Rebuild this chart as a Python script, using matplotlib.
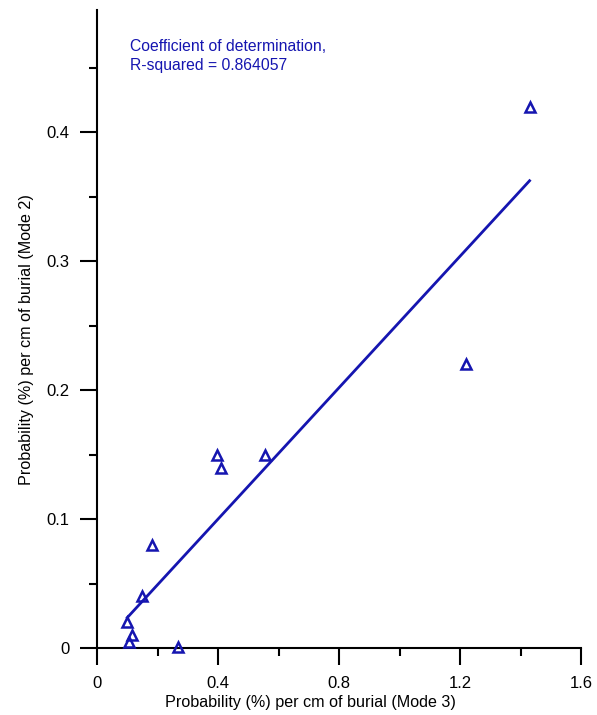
import numpy as np
import matplotlib
matplotlib.use('Agg')
import matplotlib.pyplot as plt
from matplotlib.ticker import MultipleLocator

plt.rcParams['font.family'] = ['Liberation Sans', 'DejaVu Sans']

# burial probabilities: mode 3 (x) vs mode 2 (y)
mode3 = [1.43, 1.22, 0.397, 0.41, 0.555, 0.183, 0.148, 0.100, 0.117, 0.106, 0.267]
mode2 = [0.42, 0.22, 0.15, 0.14, 0.15, 0.08, 0.04, 0.02, 0.01, 0.005, 0.001]

xticks = [0, 0.4, 0.8, 1.2, 1.6]
xticklabels = ['0', '0.4', '0.8', '1.2', '1.6']
yticks = [0, 0.1, 0.2, 0.3, 0.4]
yticklabels = ['0', '0.1', '0.2', '0.3', '0.4']

blue = '#1515b0'

x = np.array(mode3)
y = np.array(mode2)
slope, intercept = np.polyfit(x, y, 1)
fit_x = np.array([x.min(), x.max()])
fit_y = slope * fit_x + intercept

fig = plt.figure(figsize=(5.97, 7.15), dpi=100)
ax = fig.add_axes([0.1625, 0.0937, 0.8107, 0.8923])

ax.plot(fit_x, fit_y, color=blue, lw=2.0, zorder=2)
ax.plot(x, y, linestyle='none', marker='^', markersize=7.5, markerfacecolor='none',
        markeredgecolor=blue, markeredgewidth=1.8, zorder=3, clip_on=False)

ax.set_xlim(0, 1.6)
ax.set_ylim(0, 0.495)
ax.set_xticks(xticks)
ax.set_xticklabels(xticklabels)
ax.set_yticks(yticks)
ax.set_yticklabels(yticklabels)
ax.xaxis.set_minor_locator(MultipleLocator(0.2))
ax.yaxis.set_minor_locator(MultipleLocator(0.05))

for side in ['top', 'right']:
    ax.spines[side].set_visible(False)
for side in ['left', 'bottom']:
    ax.spines[side].set_linewidth(1.5)

ax.tick_params(which='major', direction='out', length=12, width=1.5, labelsize=12, pad=8)
ax.tick_params(which='minor', direction='out', length=6, width=1.5)

ax.set_xlabel('Probability (%) per cm of burial (Mode 3)', fontsize=11.6)
ax.set_ylabel('Probability (%) per cm of burial (Mode 2)', fontsize=11.6)
ax.xaxis.set_label_coords(0.442, -0.073)
ax.yaxis.set_label_coords(-0.13, 0.483)

ax.text(0.068, 0.954, 'Coefficient of determination,\nR-squared = 0.864057',
        transform=ax.transAxes, color=blue, fontsize=11.3, va='top', ha='left',
        linespacing=1.3)

fig.savefig('out.png', dpi=100)
